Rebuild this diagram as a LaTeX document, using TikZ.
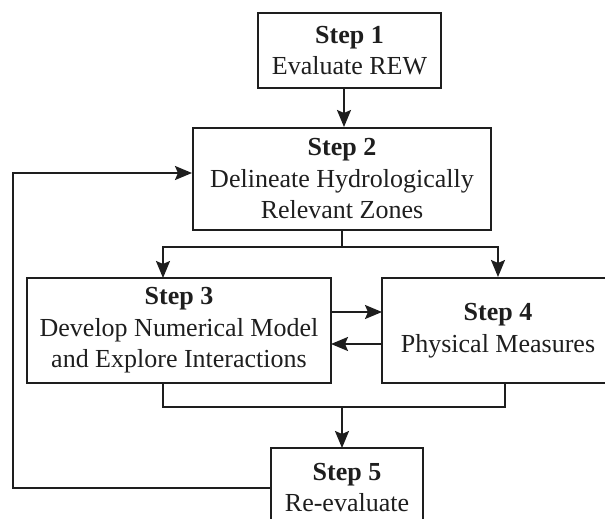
\documentclass[tikz,border=0pt]{standalone}
\usepackage{fontspec}
\usetikzlibrary{arrows.meta,calc}
\newfontfamily\stepfont{Liberation Serif}
\definecolor{ink}{RGB}{30,30,30}
\begin{document}
\begin{tikzpicture}[x=1pt,y=-1pt,
  box/.style={draw=ink, text=ink, line width=2pt, inner sep=0pt, align=center,
    font={\stepfont\fontsize{26}{31.5}\selectfont}},
  ln/.style={draw=ink, line width=2pt},
  arr/.style={ln, -{Stealth[length=17pt,width=14pt,inset=3pt]}, ink}]
\useasboundingbox (0,0) rectangle (605,519);
\clip (0,0) rectangle (605,519);

% process boxes
\node[box, minimum width=183pt, minimum height=75pt]  (s1) at (349.5,50.5) {\textbf{Step 1}\\Evaluate REW};
\node[box, minimum width=298pt, minimum height=102pt] (s2) at (342,179) {\textbf{Step 2}\\Delineate Hydrologically\\Relevant Zones};
\node[box, minimum width=304pt, minimum height=105pt] (s3) at (179,330.5) {\textbf{Step 3}\\Develop Numerical Model\\and Explore Interactions};
\node[box, minimum width=232pt, minimum height=105pt] (s4) at (498,330.5) {\textbf{Step 4}\\Physical Measures};
\node[box, minimum width=152pt, minimum height=79pt]  (s5) at (347,487.5) {\textbf{Step 5}\\Re-evaluate};

% junction points of the connectors
\coordinate (top12) at ($(s1.south)+(-5.5,0)$);
\coordinate (split) at (342,247);
\coordinate (in3)   at (163,278);
\coordinate (out3)  at (163,383);
\coordinate (out4)  at (505,383);
\coordinate (mleft) at (163,407);
\coordinate (merge) at (342,407);
\coordinate (in5)   at (342,448);
\coordinate (fbtop) at (13,173);
\coordinate (r1) at (331,312);
\coordinate (r2) at (382,312);
\coordinate (l1) at (382,344);
\coordinate (l2) at (331,344);

% step 1 to step 2
\draw[arr] (top12) -- (top12 |- s2.north);

% step 2 branches to steps 3 and 4
\draw[ln] (s2.south) -- (split);
\draw[arr] (split) -| (in3);
\draw[arr] (split) -| (s4.north);

% exchange between steps 3 and 4
\draw[arr] (r1) -- (r2);
\draw[arr] (l1) -- (l2);

% steps 3 and 4 join towards step 5
\draw[ln] (out3) |- (mleft) -- (merge) -| (out4);
\draw[arr] (merge) -- (in5);

% feedback loop from step 5 back to step 2
\draw[arr] (s5.west) -| (fbtop) -- (s2.west |- fbtop);
\end{tikzpicture}
\end{document}
